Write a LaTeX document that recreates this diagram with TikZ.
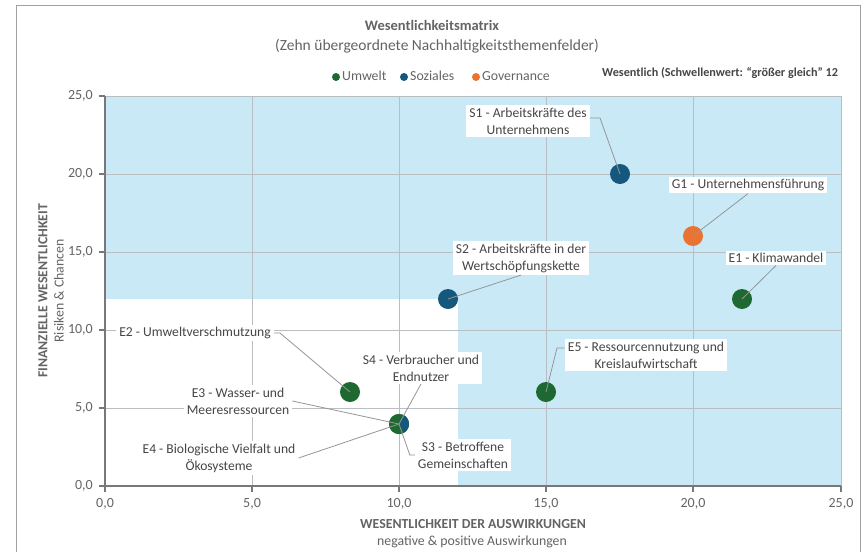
\documentclass[tikz,border=0pt]{standalone}
\usepackage{fontspec}
\setmainfont{Carlito}
\usetikzlibrary{calc}
\begin{document}
\begin{tikzpicture}[x=1pt,y=-1pt,
  txt/.style={text=textgray,inner sep=0pt},
  lbl/.style={fill=white,text=labelgray,font=\fontsize{13.6}{17}\selectfont,align=center,inner xsep=3pt,inner ysep=2.5pt},
  dot/.style={circle,minimum size=20pt,inner sep=0pt},
  ldot/.style={circle,minimum size=8pt,inner sep=0pt},
  leader/.style={draw=leadergray,line width=0.8pt},
  grid/.style={draw=gridgray,line width=0.8pt},
  axis/.style={draw=axisgray,line width=1.6pt},
  tick/.style={txt,font=\fontsize{14}{16}\selectfont},
  leg/.style={txt,anchor=west,font=\fontsize{13.8}{16}\selectfont},
]
\definecolor{bgblue}{RGB}{202,233,247}
\definecolor{gridgray}{RGB}{185,190,195}
\definecolor{axisgray}{RGB}{120,120,120}
\definecolor{textgray}{RGB}{100,100,100}
\definecolor{labelgray}{RGB}{70,70,70}
\definecolor{leadergray}{RGB}{150,150,150}
\definecolor{framegray}{RGB}{160,160,160}
\definecolor{cgreen}{RGB}{30,105,50}
\definecolor{cblue}{RGB}{22,88,125}
\definecolor{corange}{RGB}{235,115,50}
\useasboundingbox (0,0) rectangle (865,552);
\fill[white] (0,0) rectangle (865,552);
% frame
\draw[framegray,line width=1pt] (16,552) -- (16,5) -- (860,5) -- (860,552);
% titles
\node[txt,font=\bfseries\fontsize{14.5}{17}\selectfont] (title) at (432,25) {Wesentlichkeitsmatrix};
\node[txt,font=\fontsize{15.5}{18}\selectfont] (subtitle) at (437,46) {(Zehn übergeordnete Nachhaltigkeitsthemenfelder)};
% legend
\node[ldot,fill=cgreen] (lg1) at (336,77) {};
\node[leg] (lt1) at (342,76) {Umwelt};
\node[ldot,fill=cblue] (lg2) at (404,77) {};
\node[leg] (lt2) at (410,76) {Soziales};
\node[ldot,fill=corange] (lg3) at (476,77) {};
\node[leg] (lt3) at (482,76) {Governance};
\node[txt,text=labelgray,anchor=west,font=\bfseries\fontsize{12.2}{14}\selectfont] (note) at (602,73) {Wesentlich (Schwellenwert: “größer gleich” 12};
% plot background
\fill[bgblue] (105,96) rectangle (841,486);
\fill[white] (105,299) rectangle (458,486);
% grid
\foreach \gx in {252,399,546,693,841} \draw[grid] (\gx,96) -- (\gx,486);
\foreach \gy in {96,174,252,330,408} \draw[grid] (105,\gy) -- (841,\gy);
% axes
\draw[axis] (105,96) -- (105,486) -- (841,486);
\foreach \gy in {96,174,252,330,408,486} \draw[axis,line width=1.2pt] (99,\gy) -- (105,\gy);
\foreach \gx in {105,252,399,546,693,841} \draw[axis,line width=1.2pt] (\gx,486) -- (\gx,492);
% tick labels
\foreach \gy/\t in {96/{25,0},174/{20,0},252/{15,0},330/{10,0},408/{5,0},486/{0,0}}
  \node[tick,anchor=east] at (93,\gy) {\t};
\foreach \gx/\t in {105/{0,0},252/{5,0},399/{10,0},546/{15,0},693/{20,0},841/{25,0}}
  \node[tick] at (\gx,504) {\t};
% axis titles
\node[txt,font=\bfseries\fontsize{13.8}{16}\selectfont] (xt1) at (473,524) {WESENTLICHKEIT DER AUSWIRKUNGEN};
\node[txt,font=\fontsize{13.8}{16}\selectfont] (xt2) at (472,542) {negative \& positive Auswirkungen};
\node[txt,rotate=90,font=\bfseries\fontsize{13.8}{16}\selectfont] (yt1) at (43,291) {FINANZIELLE WESENTLICHKEIT};
\node[txt,rotate=90,font=\fontsize{13.8}{16}\selectfont] (yt2) at (59,291) {Risiken \& Chancen};
% labels
\node[lbl] (lS1) at (528,121) {S1 - Arbeitskräfte des\\Unternehmens};
\node[lbl] (lG1) at (748,185) {G1 - Unternehmensführung};
\node[lbl] (lE1) at (776,258) {E1 - Klimawandel};
\node[lbl] (lS2) at (521,258) {S2 - Arbeitskräfte in der\\Wertschöpfungskette};
\node[lbl] (lE2) at (195,333) {E2 - Umweltverschmutzung};
\node[lbl] (lE3) at (238,401) {E3 - Wasser- und\\Meeresressourcen};
\node[lbl] (lE4) at (219,458) {E4 - Biologische Vielfalt und\\Ökosysteme};
\node[lbl] (lS4) at (421,368) {S4 - Verbraucher und\\Endnutzer};
\node[lbl] (lS3) at (463,455) {S3 - Betroffene\\Gemeinschaften};
\node[lbl] (lE5) at (646,355) {E5 - Ressourcennutzung und\\Kreislaufwirtschaft};
% dots
\node[dot,fill=cblue] (S1) at (620,174) {};
\node[dot,fill=corange] (G1) at (693,236) {};
\node[dot,fill=cgreen] (E1) at (742,299) {};
\node[dot,fill=cblue] (S2) at (448,299) {};
\node[dot,fill=cgreen] (E2) at (350,392) {};
\node[dot,fill=cgreen] (E5) at (546,392) {};
\node[dot,fill=cgreen] (E3) at (399,424) {};
\node[dot,fill=cgreen] (E4) at (399,424) {};
\node[dot] (S3) at (399,424) {};
\node[dot] (S4) at (399,424) {};
\fill[cblue] (S3.center) -- ($(S3.center)+(-60:10pt)$) arc[start angle=-60,end angle=60,radius=10pt] -- cycle;
% leaders
\draw[leader] (lS1.east |- 0,118) -- (600,118) -- (S1.center);
\draw[leader] (lG1.south) -- (G1.center);
\draw[leader] (lE1.south) -- (E1.center);
\draw[leader] (lS2.south) -- (S2.center);
\draw[leader] (lE2.east) -- ++(6,0) -- (E2.center);
\draw[leader] (lE3.east) -- (E3.center);
\draw[leader] (lE4.east) -- (E4.center);
\draw[leader] (lS4.south) -- (S4.center);
\draw[leader] (lS3.west) -- ++(-5,0) -- (S3.center);
\draw[leader] (lE5.west |- 0,348) -- (557,348) -- (E5.center);
\end{tikzpicture}
\end{document}
